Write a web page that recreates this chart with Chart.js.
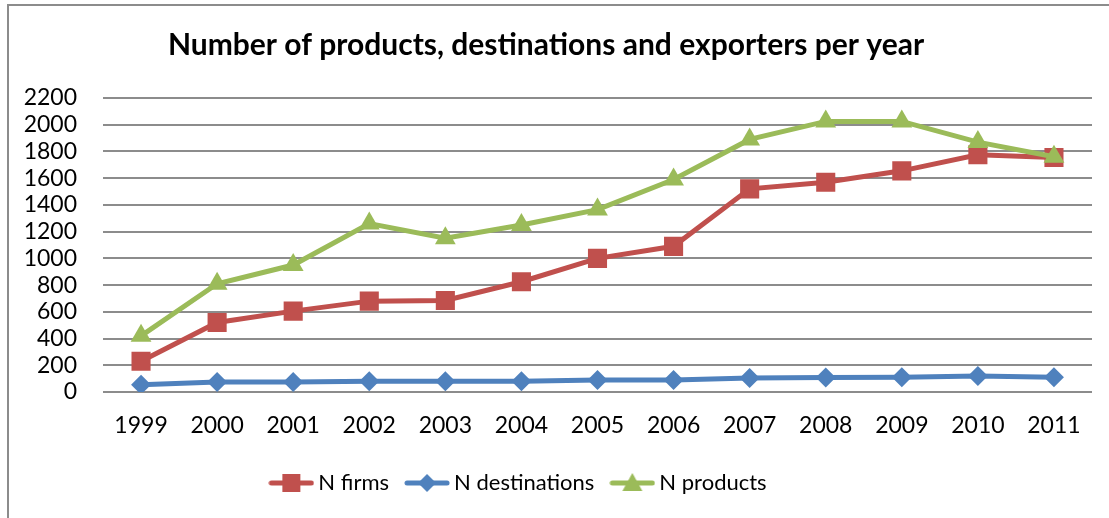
<!DOCTYPE html>
<html>
<head>
<meta charset="utf-8">
<title>Products, destinations and exporters</title>
<script src="https://cdn.jsdelivr.net/npm/chart.js@4.4.0/dist/chart.umd.min.js"></script>
<style>
  html, body { margin: 0; padding: 0; background: #fff; overflow: hidden; }
  #frame {
    position: absolute; left: 7px; top: 4px; width: 1130px; height: 540px;
    border-left: 2px solid #8c8c8c; border-top: 2px solid #8c8c8c;
  }
  #wrap { position: absolute; left: 0; top: 0; width: 1109px; height: 518px; }
</style>
</head>
<body>
<div id="frame"></div>
<div id="wrap"><canvas id="exportChart" width="1109" height="518"></canvas></div>
<script>
const years = ['1999', '2000', '2001', '2002', '2003', '2004', '2005', '2006', '2007', '2008', '2009', '2010', '2011'];
const nFirms = [230, 520, 605, 680, 685, 825, 1000, 1090, 1520, 1570, 1655, 1775, 1755];
const nDestinations = [55, 75, 75, 80, 80, 80, 90, 90, 105, 108, 110, 120, 110];
const nProducts = [420, 810, 950, 1260, 1150, 1250, 1365, 1590, 1890, 2025, 2025, 1870, 1760];
const yMin = 0, yMax = 2200, yStep = 200;

const RED = '#C0504D', BLUE = '#4F81BD', GREEN = '#9BBB59';
const FONT = 'Lato, "Open Sans", sans-serif';

// small line + marker pictures for the legend
function legendIcon(color, shape) {
  const c = document.createElement('canvas');
  c.width = 46; c.height = 24;
  const g = c.getContext('2d');
  g.strokeStyle = color; g.lineWidth = 5; g.lineCap = 'round';
  g.beginPath(); g.moveTo(3, 12); g.lineTo(43, 12); g.stroke();
  g.fillStyle = color;
  g.beginPath();
  if (shape === 'rect') {
    g.rect(14, 3, 18, 18);
  } else if (shape === 'rectRot') {
    g.moveTo(23, 3); g.lineTo(32, 12); g.lineTo(23, 21); g.lineTo(14, 12);
  } else {
    g.moveTo(23, 2); g.lineTo(33, 20); g.lineTo(13, 20);
  }
  g.closePath(); g.fill();
  return c;
}

const icons = [legendIcon(RED, 'rect'), legendIcon(BLUE, 'rectRot'), legendIcon(GREEN, 'triangle')];

// nudge the legend row a little to the left
const legendShift = {
  id: 'legendShift',
  afterLayout(chart) {
    chart.legend.left -= 25;
    chart.legend.right -= 25;
  }
};

new Chart(document.getElementById('exportChart'), {
  type: 'line',
  data: {
    labels: years,
    datasets: [
      {
        label: 'N firms', data: nFirms, order: 2,
        borderColor: RED, backgroundColor: RED, borderWidth: 5,
        pointStyle: 'rect', pointRadius: 13.5, pointBorderWidth: 0,
        pointBackgroundColor: RED
      },
      {
        label: 'N destinations', data: nDestinations, order: 1,
        borderColor: BLUE, backgroundColor: BLUE, borderWidth: 5,
        pointStyle: 'rectRot', pointRadius: 10, pointBorderWidth: 0,
        pointBackgroundColor: BLUE
      },
      {
        label: 'N products', data: nProducts, order: 0,
        borderColor: GREEN, backgroundColor: GREEN, borderWidth: 5,
        pointStyle: 'triangle', pointRadius: 12, pointBorderWidth: 0,
        pointBackgroundColor: GREEN
      }
    ]
  },
  options: {
    responsive: false,
    animation: false,
    layout: { padding: { left: 0, right: 17, top: 0, bottom: 14 } },
    plugins: {
      title: {
        display: true,
        text: 'Number of products, destinations and exporters per year',
        color: '#000',
        font: { family: FONT, size: 30, weight: 'bold' },
        padding: { top: 27, bottom: 35 }
      },
      legend: {
        position: 'bottom',
        labels: {
          usePointStyle: true,
          pointStyleWidth: 32,
          padding: 22,
          color: '#000',
          font: { family: FONT, size: 22 },
          sort: (a, b) => a.datasetIndex - b.datasetIndex,
          generateLabels(chart) {
            const items = Chart.defaults.plugins.legend.labels.generateLabels(chart);
            items.forEach(it => { it.pointStyle = icons[it.datasetIndex]; });
            return items;
          }
        }
      },
      tooltip: { enabled: false }
    },
    scales: {
      x: {
        offset: true,
        grid: { display: false },
        border: { display: false },
        ticks: { color: '#000', padding: 12, autoSkip: false, maxRotation: 0, font: { family: FONT, size: 23 } },
        afterFit(scale) { scale.height = 58; }
      },
      y: {
        min: yMin, max: yMax,
        grid: { color: '#8c8c8c', lineWidth: 2, drawTicks: false },
        border: { display: false },
        ticks: {
          stepSize: yStep, autoSkip: false, color: '#000', padding: 26,
          font: { family: FONT, size: 23 },
          callback: (v) => String(v)
        },
        afterFit(scale) { scale.width = 103; }
      }
    }
  },
  plugins: [legendShift]
});
</script>
</body>
</html>
